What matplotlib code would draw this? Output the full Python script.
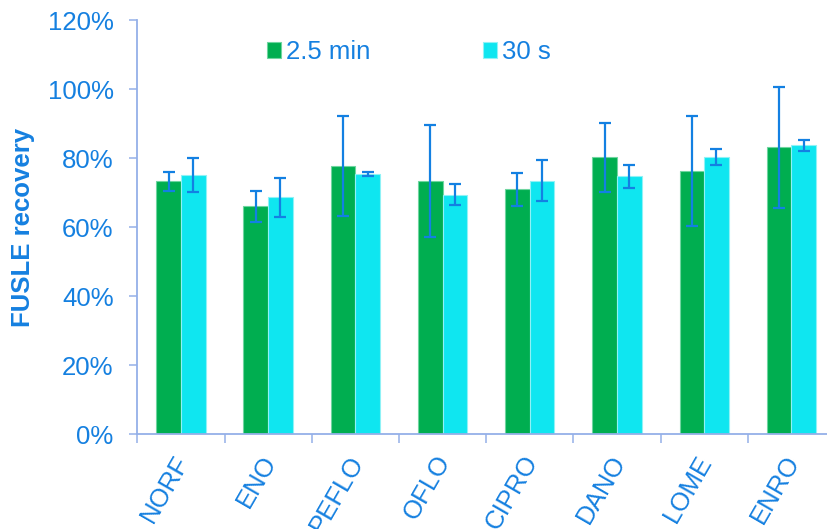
import matplotlib
matplotlib.use("Agg")
import matplotlib.pyplot as plt
import numpy as np
from matplotlib.ticker import FuncFormatter, FixedLocator

categories = ["NORF", "ENO", "PEFLO", "OFLO", "CIPRO", "DANO", "LOME", "ENRO"]
series_names = ["2.5 min", "30 s"]
vals_25min = [73.3, 66.0, 77.7, 73.4, 71.0, 80.2, 76.3, 83.1]
err_25min = [2.8, 4.5, 14.6, 16.3, 4.8, 10.0, 16.0, 17.5]
vals_30s = [75.1, 68.6, 75.5, 69.4, 73.5, 74.7, 80.3, 83.7]
err_30s = [5.0, 5.6, 0.6, 3.1, 6.0, 3.3, 2.4, 1.6]
y_ticks = [0, 20, 40, 60, 80, 100, 120]

plt.rcParams['font.family'] = ['Liberation Sans', 'DejaVu Sans']

TXT = '#1580E0'
AXC = '#94B0E8'
GREEN = '#00AE50'
CYAN = '#0FE6F0'
ERRC = '#1380E2'

W, H = 828, 529
fig = plt.figure(figsize=(W / 100, H / 100), dpi=100)
left = 137.3 / W
bottom = 1 - 434.3 / H
width = (835.0 - 137.3) / W
height = (434.3 - 20) / H
ax = fig.add_axes([left, bottom, width, height])

x = np.arange(len(categories))
bw = 0.283
off = 0.141
ax.bar(x - off, vals_25min, bw, color=GREEN, edgecolor='#6fd5a0', linewidth=0.8, zorder=2, label=series_names[0])
ax.bar(x + off, vals_30s, bw, color=CYAN, edgecolor='#8ff2f6', linewidth=0.8, zorder=2, label=series_names[1])
ekw = dict(fmt='none', ecolor=ERRC, elinewidth=1.6, capsize=4.2, capthick=1.6, zorder=3)
ax.errorbar(x - off, vals_25min, yerr=err_25min, **ekw)
ax.errorbar(x + off, vals_30s, yerr=err_30s, **ekw)

ax.set_xlim(-0.5, len(categories) - 0.5)
ax.set_ylim(0, 120)
ax.set_yticks(y_ticks)
ax.yaxis.set_major_formatter(FuncFormatter(lambda v, p: f"{int(v)}%"))

# label anchors sit slightly left of the group centre, as in the reference
ax.set_xticks(x - 0.09)
ax.set_xticklabels(categories, rotation=60, ha='right', va='top', rotation_mode='anchor')
ax.xaxis.set_minor_locator(FixedLocator(np.arange(len(categories) + 1) - 0.5))
ax.tick_params(axis='x', which='major', length=0, pad=12, labelsize=18.5, labelcolor=TXT)
ax.tick_params(axis='x', which='minor', length=6.5, width=1.1, color=AXC, direction='out')
ax.tick_params(axis='y', which='major', length=6, width=1.1, color=AXC, direction='out',
               pad=11, labelsize=18.5, labelcolor=TXT)

for s in ['top', 'right']:
    ax.spines[s].set_visible(False)
for s in ['left', 'bottom']:
    ax.spines[s].set_color(AXC)
    ax.spines[s].set_linewidth(1.3)

fig.text(23 / W, 1 - 227 / H, "FUSLE recovery", rotation=90, ha='center', va='center',
         fontsize=18.5, fontweight='bold', color=TXT)

fs = 18.5
fpx = fs * 100 / 72
leg = fig.legend(loc='center left', bbox_to_anchor=(267 / W, 1 - 52 / H), ncol=2, frameon=False,
                 fontsize=fs, labelcolor=TXT, borderpad=0, borderaxespad=0,
                 handlelength=14 / fpx, handleheight=14 / fpx, handletextpad=5 / fpx,
                 columnspacing=113 / fpx)

fig.savefig("out.png", dpi=100)
